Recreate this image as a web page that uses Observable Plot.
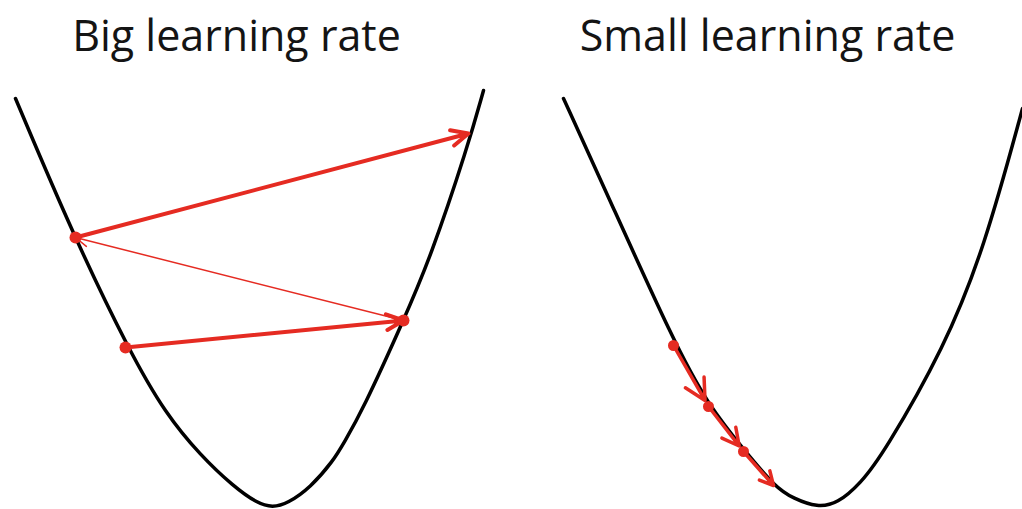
<!DOCTYPE html>
<html>
<head>
<meta charset="utf-8">
<script src="https://cdn.jsdelivr.net/npm/d3@7"></script>
<script src="https://cdn.jsdelivr.net/npm/@observablehq/plot@0.6"></script>
<style>
  html, body { margin: 0; padding: 0; background: #fff; }
  #chart svg { display: block; }
</style>
</head>
<body>
<div id="chart"></div>
<script>
// Panels (facet titles)
const panels = ["Big learning rate", "Small learning rate"];
const titleTheta = [-0.2, 0.0];

// Loss curve, big learning rate panel (parameter θ, loss L)
const bigCurveTheta = [-2.41, -1.84, -1.26, -0.91, -0.56, -0.23, 0.01, 0.16, 0.31, 0.54, 0.77, 0.87, 1.06, 1.47, 1.74, 2.11, 2.27];
const bigCurveLoss  = [ 4.09,  2.74,  1.54,  0.94,  0.52,  0.21, 0.04, 0.00, 0.04, 0.20, 0.47, 0.64, 0.97, 1.87, 2.50, 3.60, 4.17];

// Loss curve, small learning rate panel
const smallCurveTheta = [-2.04, -1.62, -0.93, -0.59, -0.23, 0.08, 0.26, 0.50, 0.70, 0.93, 1.16, 1.77, 2.17, 2.55];
const smallCurveLoss  = [ 4.09,  3.17,  1.64,  1.02,  0.57, 0.20, 0.09, 0.00, 0.04, 0.24, 0.54, 1.60, 2.60, 3.99];

// Gradient descent steps
const bigStepTheta = [-1.31, 1.47, -1.81, 2.12];
const bigStepLoss  = [ 1.60, 1.87,  2.70, 3.74];
const smallStepTheta = [-0.94, -0.59, -0.24, 0.06];
const smallStepLoss  = [ 1.62,  1.01,  0.56, 0.22];

const RED = "#e52b22";

const curve = [
  ...bigCurveTheta.map((t, i) => ({panel: panels[0], theta: t, loss: bigCurveLoss[i]})),
  ...smallCurveTheta.map((t, i) => ({panel: panels[1], theta: t, loss: smallCurveLoss[i]}))
];

function stepsToArrows(panel, th, ls) {
  return th.slice(0, -1).map((t, i) => ({panel, i, last: i === th.length - 2, x1: t, y1: ls[i], x2: th[i + 1], y2: ls[i + 1]}));
}
const bigArrows = stepsToArrows(panels[0], bigStepTheta, bigStepLoss);
const smallArrows = stepsToArrows(panels[1], smallStepTheta, smallStepLoss);

const bigDots = bigStepTheta.slice(0, -1).map((t, i) => ({panel: panels[0], theta: t, loss: bigStepLoss[i]}));
const smallDots = smallStepTheta.slice(0, -1).map((t, i) => ({panel: panels[1], theta: t, loss: smallStepLoss[i]}));

const chart = Plot.plot({
  width: 1022,
  height: 509,
  margin: 0,
  style: {background: "#fff", fontFamily: "Open Sans"},
  fx: {domain: panels, padding: 0, axis: null},
  x: {domain: [-2.56, 2.55], axis: null},
  y: {domain: [-0.02, 5.07], axis: null},
  marks: [
    Plot.line(curve, {fx: "panel", x: "theta", y: "loss", curve: "basis", stroke: "#000", strokeWidth: 3.5}),
    // big learning rate: thick jumps and the thin return step
    Plot.arrow(bigArrows.filter(d => d.i !== 1), {fx: "panel", x1: "x1", y1: "y1", x2: "x2", y2: "y2", stroke: RED, strokeWidth: 4, headLength: 7, headAngle: 50}),
    Plot.arrow(bigArrows.filter(d => d.i === 1), {fx: "panel", x1: "x1", y1: "y1", x2: "x2", y2: "y2", stroke: RED, strokeWidth: 1.5, headLength: 14, headAngle: 50}),
    // small learning rate
    Plot.arrow(smallArrows.filter(d => !d.last), {fx: "panel", x1: "x1", y1: "y1", x2: "x2", y2: "y2", stroke: RED, strokeWidth: 3.5, headLength: 10, headAngle: 55, insetEnd: 7}),
    Plot.arrow(smallArrows.filter(d => d.last), {fx: "panel", x1: "x1", y1: "y1", x2: "x2", y2: "y2", stroke: RED, strokeWidth: 3.5, headLength: 10, headAngle: 55}),
    Plot.dot(bigDots, {fx: "panel", x: "theta", y: "loss", r: 6, fill: RED}),
    Plot.dot(smallDots, {fx: "panel", x: "theta", y: "loss", r: 5.5, fill: RED}),
    Plot.text(panels, {fx: d => d, x: (d, i) => titleTheta[i], text: d => d, frameAnchor: "top", lineAnchor: "bottom", dy: 50, fontSize: 43, fontFamily: "Open Sans", fill: "#141414"})
  ]
});
document.getElementById("chart").append(chart);
</script>
</body>
</html>
